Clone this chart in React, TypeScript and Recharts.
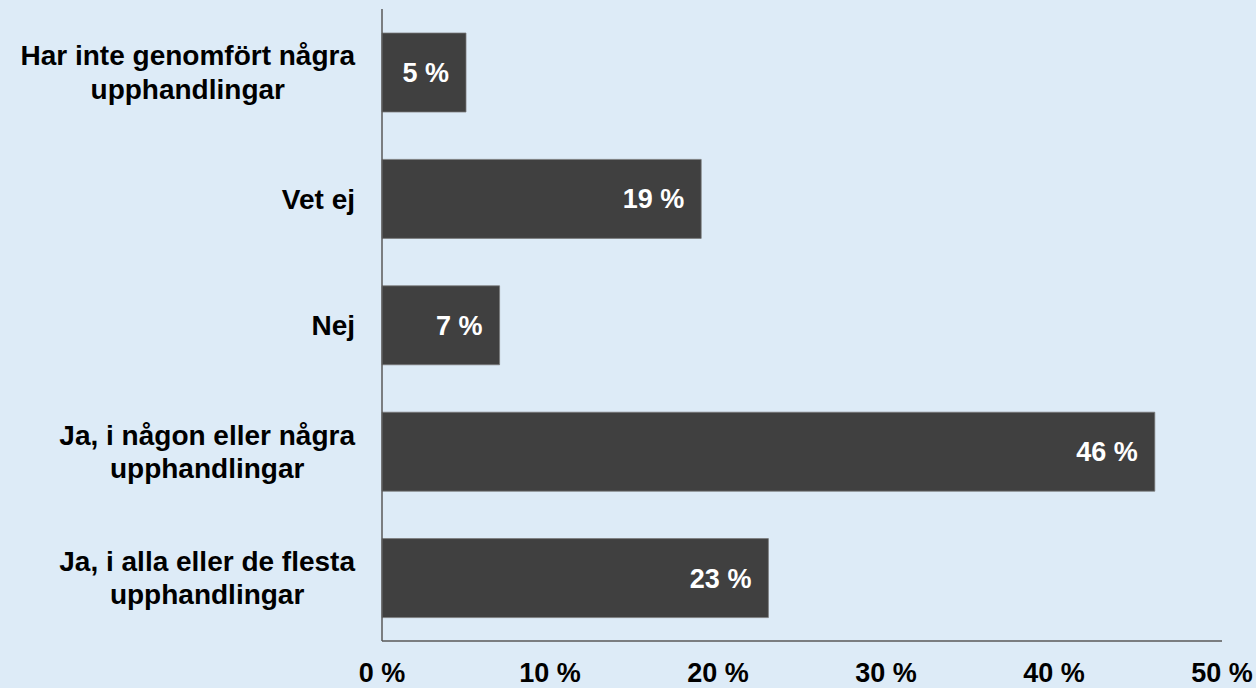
import { BarChart, Bar, XAxis, YAxis, LabelList } from 'recharts';

const categories = [
  'Har inte genomfört några\nupphandlingar',
  'Vet ej',
  'Nej',
  'Ja, i någon eller några\nupphandlingar',
  'Ja, i alla eller de flesta\nupphandlingar',
];
const values = [5, 19, 7, 46, 23];
const xTicks = [0, 10, 20, 30, 40, 50];

const data = categories.map((c, i) => ({ category: c, value: values[i] }));

const FONT = '"Liberation Sans", Arial, sans-serif';
const CAT_SIZE = 28;
const VAL_SIZE = 27;

let ctx: CanvasRenderingContext2D | null = null;
function measure(text: string) {
  if (!ctx) ctx = document.createElement('canvas').getContext('2d');
  if (!ctx) return text.length * CAT_SIZE * 0.5;
  ctx.font = `bold ${CAT_SIZE}px ${FONT}`;
  return ctx.measureText(text).width;
}

function CategoryTick(props: any) {
  const { x, y, payload } = props;
  const lines: string[] = String(payload.value).split('\n');
  const lineHeight = 33.5;
  const blockWidth = Math.max(...lines.map(measure));
  const cx = x - 27 - blockWidth / 2;
  const firstBaseline = y + CAT_SIZE * 0.355 - ((lines.length - 1) * lineHeight) / 2;
  return (
    <text textAnchor="middle" fontFamily={FONT} fontWeight="bold" fontSize={CAT_SIZE} fill="#000">
      {lines.map((l, i) => (
        <tspan key={i} x={cx} y={firstBaseline + i * lineHeight}>
          {l}
        </tspan>
      ))}
    </text>
  );
}

export default function App() {
  return (
    <div style={{ position: 'absolute', left: 0, top: 0, width: 1256, height: 688, background: '#DDEBF7' }}>
      <BarChart
        width={1256}
        height={688}
        data={data}
        layout="vertical"
        margin={{ top: 9, right: 34, left: 0, bottom: 0 }}
      >
        <XAxis
          type="number"
          domain={[0, 50]}
          ticks={xTicks}
          tickFormatter={(v) => `${v} %`}
          height={47}
          tickSize={0}
          tickMargin={22}
          axisLine={{ stroke: '#595959', strokeWidth: 1.5 }}
          tick={{ fill: '#000', fontSize: VAL_SIZE, fontWeight: 'bold', fontFamily: FONT }}
        />
        <YAxis
          type="category"
          dataKey="category"
          width={382}
          tickSize={0}
          tickMargin={0}
          axisLine={{ stroke: '#595959', strokeWidth: 1.5 }}
          tick={<CategoryTick />}
          interval={0}
        />
        <Bar dataKey="value" fill="#404040" stroke="#7a7a7a" strokeWidth={0.75} barSize={79} isAnimationActive={false}>
          <LabelList
            dataKey="value"
            position="insideRight"
            offset={17}
            formatter={(v: any) => `${v} %`}
            fill="#fff"
            fontSize={VAL_SIZE}
            fontWeight="bold"
            fontFamily={FONT}
          />
        </Bar>
      </BarChart>
    </div>
  );
}
